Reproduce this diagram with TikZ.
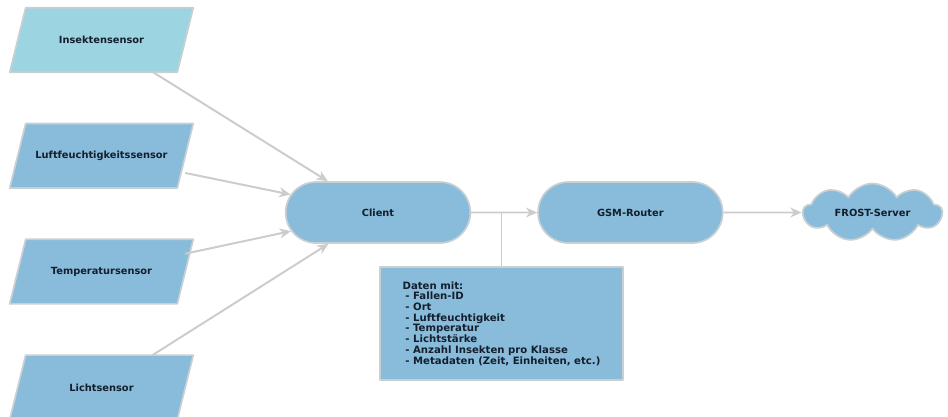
\documentclass[tikz,border=0pt]{standalone}
\usepackage{fontspec}
\setmainfont{DejaVu Sans}
\usepackage{tikz}
\usetikzlibrary{shapes,arrows.meta,positioning,backgrounds}
\definecolor{sensorblue}{RGB}{137,188,218}
\definecolor{insektblue}{RGB}{157,212,225}
\definecolor{rimgray}{RGB}{200,208,212}
\definecolor{linegray}{RGB}{204,204,204}
\definecolor{textnavy}{RGB}{20,30,45}

\begin{document}
\begin{tikzpicture}[
    x=0.025cm, y=-0.025cm,
    node distance=1.28cm,
    every node/.style={font=\fontsize{7}{7.6}\selectfont\bfseries, text=textnavy},
    sensor/.style={rectangle, minimum width=4.175cm, minimum height=1.6cm, inner sep=0pt},
    rim/.style={draw=rimgray, line width=1.2pt, line join=round},
    device/.style={rounded rectangle, rim, fill=sensorblue, minimum width=4.85cm, minimum height=1.525cm},
    server/.style={cloud, cloud puffs=9, cloud puff arc=120, cloud ignores aspect, rim, fill=sensorblue, minimum width=3.475cm, minimum height=1.45cm},
    infobox/.style={rectangle, rim, fill=sensorblue, minimum width=6.075cm, minimum height=2.825cm, align=left, font=\fontsize{7.2}{7.6}\selectfont\bfseries},
    arrow/.style={-{Stealth[length=8pt, width=7pt]}, line width=1.4pt, draw=linegray},
    tap/.style={line width=1.4pt, draw=linegray}
]
    \useasboundingbox (0,0) rectangle (948,416);

    % Sensors
    \node[sensor] (insekt) at (101.5,40) {Insektensensor};
    \node[sensor, below=of insekt] (luft) {Luftfeuchtigkeitssensor};
    \node[sensor, below=of luft] (temp) {Temperatursensor};
    \node[sensor, below=of temp] (licht) {Lichtsensor};

    % Parallelograms behind the sensor texts
    \begin{scope}[on background layer]
        \foreach \s/\c in {insekt/insektblue, luft/sensorblue, temp/sensorblue, licht/sensorblue}
            \filldraw[rim, fill=\c] ([xshift=-0.2cm]\s.south west) -- ([xshift=-0.2cm]\s.south east)
                -- ([xshift=0.2cm]\s.north east) -- ([xshift=0.2cm]\s.north west) -- cycle;
    \end{scope}

    % Devices
    \node[device] (client) at (378,212.5) {Client};
    \node[device, right=1.65cm of client] (router) {GSM-Router};
    \node[server, right=1.95cm of router] (frost) {FROST-Server};

    % Data
    \node[infobox] (daten) at (501.5,323.5) {Daten mit:\\
        \hspace*{2pt}- Fallen-ID\\
        \hspace*{2pt}- Ort\\
        \hspace*{2pt}- Luftfeuchtigkeit\\
        \hspace*{2pt}- Temperatur\\
        \hspace*{2pt}- Lichtstärke\\
        \hspace*{2pt}- Anzahl Insekten pro Klasse\\
        \hspace*{2pt}- Metadaten (Zeit, Einheiten, etc.)};

    % Arrows
    \draw[arrow] (insekt) -- (client);
    \draw[arrow] (luft) -- (client);
    \draw[arrow] (temp) -- (client);
    \draw[arrow] (licht) -- (client);
    \draw[arrow] (client) -- (router);
    \draw[arrow] (router) -- (frost);
    \draw[tap] (daten.north) -- (daten.north |- client.east);
\end{tikzpicture}
\end{document}
